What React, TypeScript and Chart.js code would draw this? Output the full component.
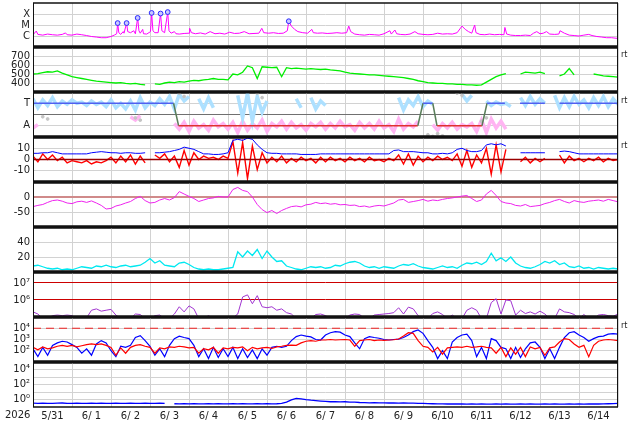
import { useEffect, useRef } from "react"
import { Chart, registerables } from "chart.js"

Chart.register(...registerables)

const FONT = "'DejaVu Sans', sans-serif"
Chart.defaults.font.family = FONT
Chart.defaults.font.size = 10
Chart.defaults.color = "#222"

// hours since 5/31 00:00, fifteen days on the time axis
const HOURS = 360
const dayLabels = ["5/31", "6/ 1", "6/ 2", "6/ 3", "6/ 4", "6/ 5", "6/ 6", "6/ 7", "6/ 8", "6/ 9", "6/10", "6/11", "6/12", "6/13", "6/14"]
const dayStarts = Array.from({ length: 16 }, (_, i) => i * 24)
const dayNoons = dayLabels.map((_, i) => i * 24 + 12)
const hours3 = Array.from({ length: 121 }, (_, i) => i * 3)

// X-ray flux [hour, W/m2]
const xrayFlux: [number, number][] = [
  [0, 1.3e-6], [2, 2.8e-6], [3, 1.4e-6], [6, 1.2e-6], [9, 1.5e-6], [12, 1.3e-6], [15, 1.2e-6], [18, 1.4e-6],
  [20, 1.9e-6], [21, 1.3e-6], [24, 1.2e-6], [27, 1.5e-6], [30, 1.3e-6], [33, 1.1e-6], [36, 9e-7], [39, 8e-7],
  [42, 7e-7], [45, 7e-7], [48, 9e-7], [50, 1.2e-6], [51.5, 1.6e-6], [52.1, 1.5e-5], [52.8, 2e-6], [54, 1.4e-6],
  [55.5, 2.5e-6], [56, 1.8e-6], [57.6, 1.5e-5], [58.3, 2.5e-6], [60, 2e-6], [62, 3e-6], [63, 1.6e-6], [64.4, 4.4e-5],
  [65.2, 3e-6], [66, 1.8e-6], [67.5, 4e-6], [68, 1.6e-6], [70, 1.5e-6], [72.3, 2.5e-6], [73, 1.25e-4], [73.8, 3e-6],
  [75, 2e-6], [77, 2e-6], [78.5, 1.1e-4], [79.3, 3e-6], [81, 2e-6], [82.9, 1.5e-4], [83.7, 3e-6], [85, 1.8e-6],
  [87, 2.5e-6], [88, 1.6e-6], [90, 1.5e-6], [93, 1.7e-6], [96, 1.8e-6], [96.4, 5e-6], [97.5, 2e-6], [100, 1.6e-6],
  [103, 1.9e-6], [106, 1.5e-6], [109, 2.5e-6], [112, 1.6e-6], [115, 1.8e-6], [118, 1.5e-6], [121, 2.2e-6], [124, 1.7e-6],
  [127, 1.8e-6], [130, 2.5e-6], [133, 1.6e-6], [136, 1.7e-6], [139, 1.8e-6], [140.8, 5e-6], [142, 2e-6], [145, 1.8e-6],
  [148, 2e-6], [151, 1.7e-6], [154, 1.8e-6], [156.5, 3e-6], [157.4, 2.2e-5], [159, 8e-6], [161, 4e-6], [163, 2.5e-6],
  [166, 2e-6], [169, 1.8e-6], [171.6, 4e-6], [172.5, 2e-6], [175, 1.8e-6], [178, 1.9e-6], [181, 1.7e-6], [184, 1.8e-6],
  [187, 2e-6], [190, 1.8e-6], [193, 2e-6], [194.3, 8e-6], [195.5, 2.5e-6], [198, 1.5e-6], [201, 1.3e-6], [204, 1.2e-6],
  [207, 1.4e-6], [210, 1.3e-6], [213, 1.2e-6], [216, 1.6e-6], [219.6, 3e-6], [220.5, 1.5e-6], [222.7, 3.5e-6], [223.8, 1.6e-6],
  [226, 1.4e-6], [229, 1.3e-6], [232, 1.5e-6], [235, 2.5e-6], [237, 1.6e-6], [240, 1.4e-6], [243, 1.3e-6], [246, 1.4e-6],
  [249, 1.8e-6], [252, 1.5e-6], [255, 1.6e-6], [258, 1.5e-6], [261, 2e-6], [264, 8e-6], [266, 4e-6], [268, 2.5e-6],
  [270, 1.8e-6], [271.8, 1e-5], [272.6, 2e-6], [275, 1.4e-6], [278, 1.3e-6], [281, 1.5e-6], [284, 1.3e-6], [287, 1.4e-6],
  [289.8, 1.3e-6], [290.4, 6e-6], [291.5, 1.5e-6], [294, 1.2e-6], [297, 1.1e-6], [300, 1.1e-6], [303, 1.2e-6], [306, 1.1e-6],
  [308, 1.8e-6], [310, 2.5e-6], [312, 1.6e-6], [314, 1.8e-6], [316, 2.5e-6], [318, 1.5e-6], [321, 1.4e-6], [323.6, 1.5e-6],
  [324.3, 3e-6], [327, 1.8e-6], [330, 1.2e-6], [333, 1.1e-6], [336, 1e-6], [339, 1.2e-6], [342, 1.4e-6], [344, 1.1e-6],
  [347, 9e-7], [350, 8e-7], [353, 7e-7], [356, 7e-7], [360, 6e-7],
]
const flarePeaks: [number, number][] = [
  [52.1, 1.5e-5], [57.6, 1.5e-5], [64.4, 4.4e-5], [73, 1.25e-4], [78.5, 1.1e-4], [82.9, 1.5e-4], [157.4, 2.2e-5],
]
const xrayTicks = [1e-6, 1e-5, 1e-4]
const xrayTickLabels = ["C", "M", "X"]

// solar wind speed, 3-hourly
const windSpeed = [
  500, 505, 515, 525, 520, 535, 510, 490, 470, 460, 450, 440, 430, 420, 415, 410,
  405, 400, 405, 395, 390, 395, 385, 380, null, 390, 385, 400, 410, 405, 415, 410,
  420, 430, 425, 435, 440, 450, 440, 440, 435, 500, 490, 520, 590, 570, 450, 580,
  575, 570, 575, 470, 570, 560, 565, 560, 555, 560, 555, 550, 555, 545, 540, 535,
  520, 510, 505, 500, 495, 490, 490, 485, 480, 475, 470, 465, 460, 450, 440, 425,
  415, 405, 400, 395, 395, 390, 390, 385, 385, 380, 380, 375, 380, 410, 440, 470,
  490, 505, null, null, 500, 520, 515, 510, 520, 505, null, null, 480, 500, 560, 490,
  null, 520, null, 500, 490, 480, 475, 470, 465,
]
const speedTicks = [700, 600, 500, 400]

// IMF sector: polarity line [hour, +1 toward / -1 away], plus scattered samples
const sectorPolarity: [number, number | null][] = [
  [0, 1], [86.5, 1], [89.6, -1], [236.8, -1], [240, 1], [246, 1], [248.6, -1], [276.3, -1],
  [279.4, 1], [290.4, 1], [295, null], [299.7, 1], [315, 1], [320, null], [324, 1], [360, 1],
]
const sectorToward = [
  1.4, 0.6, 1.3, 0.8, 1.5, 0.7, 1.2, 0.9, 1.3, 1.0, 1.1, 0.8, 1.2, 0.9, 1.1, 0.7,
  1.3, 0.6, 1.0, 0.5, 1.2, 0.4, 1.5, 0.6, 1.1, 0.8, 1.4, 0.9, 1.6, 0.5, 1.8, 1.2,
  1.6, null, 1.4, 0.5, 1.5, 0.6, null, null, null, null, 1.7, -0.3, 1.9, -0.6, 1.6, 0.2,
  1.2, null, null, null, null, null, 1.4, 0.6, null, 1.5, 0.5, 1.2, 0.8, null, null, null,
  null, null, null, null, null, null, null, null, null, null, null, 1.5, 0.4, 1.3, 0.8, 1.6,
  0.7, 1.2, 0.9, null, null, null, null, null, 1.8, 1.2, 1.7, null, null, 1.2, 0.8, 1.1,
  0.9, 1.0, 0.7, null, 1.5, 0.8, 1.6, 0.9, 1.4, 1.0, null, 1.7, 0.6, 1.5, 0.7, 1.6,
  0.9, 1.3, 0.6, 1.5, 0.8, 1.6, 0.7, 1.4, 0.9,
]
const sectorAway = [
  -1.2, -0.9, null, null, null, null, null, null, null, null, null, null, null, null, null, null,
  null, null, null, null, -0.2, -0.5, -0.1, null, null, null, null, null, null, -0.8, -1.3, -0.7,
  -1.5, -0.6, -1.2, -0.9, -1.4, -0.5, -1.1, -0.8, -1.3, -0.7, -1.6, -0.6, -1.4, -0.8, -1.2, -0.5,
  -1.5, -0.8, -1.1, -0.6, -1.3, -0.7, -1.2, -0.9, -1.4, -0.8, -1.1, -0.7, -1.3, -0.8, -1.2, -0.6,
  -1.1, -0.9, -1.4, -0.7, -1.2, -0.8, -1.3, -0.6, -1.2, -0.9, -1.5, -0.4, -1.3, -0.8, -1.1, -0.6,
  null, null, -0.9, -1.4, -0.8, -1.2, -0.7, -1.3, -0.9, -1.1, -0.8, -1.5, -0.5, -1.6, -0.4, -1.2,
  -0.6, -1.3, null, null, null, null, null, null, null, null, null, null, null, null, null, null,
  null, null, null, null, null, null, null, null, null,
]
const sectorMixed: [number, number][] = [
  [6, -0.2], [9, -0.4], [63, -0.3], [66, -0.5], [90, 1.9], [93, 1.6], [138, 1.9], [141, 1.5],
  [243, -1.8], [246, -1.95], [249, -1.7], [252, -1.9], [261, 1.9], [264, 1.7], [276, -0.6], [279, -0.3],
]
const sectorTicks = [1, 0, -1]
const sectorTickLabels = ["T", "", "A"]

// IMF magnitude and Bz, nT
const imfBt = [
  5.5, 5.5, 6, 6, 7, 6, 5, 5, 5, 5, 5, 5, 6, 6.5, 7, 6.5,
  6, 6, 5.5, 6, 6, 5.5, 5.5, 6, null, 6, 6, 6.5, 7, 8, 9, 11,
  10, 9, 7, 5, 5, 4.5, 4.5, 5, 6, 17, 18, 17, 19, 18, 13, 9,
  6, 5.5, 5.5, 5, 5, 5, 5, 4.5, 4.5, 4.5, 4.5, 5, 5, 5, 5, 5,
  5, 5, 5, 5, 5, 5, 5, 5, 5, 5, 8, 8.5, 7, 7, 7, 6.5,
  6, 6, 5, 5, 5.5, 5, 6, 9, 10, 8, 7, 7, 8, 13, 14, 13,
  14, 12, null, null, 6, 6, 6, 6, 6, 6, null, null, 7, 7.5, 7, 6,
  5, 5, 5, 5, 5, 5, 5, 5, 5,
]
const imfBz = [
  3, -2, 5, 0, 4, -1, 2, -3, -1, -2, -3, -1, -4, -2, -3, -1,
  2, -3, 3, -2, 4, -4, 3, -3, null, 4, 1, 5, -2, 3, -7, 8,
  -5, 6, 0, 3, 1, 2, 0, 3, 1, 16, -12, 15, -17, 12, -9, 6,
  -3, 2, -2, 3, -3, 1, -2, 2, -1, 1, -3, 2, -2, 2, -1, 1,
  -2, 2, -1, 1, -2, 2, -1, 0, -2, 1, -1, 4, -4, 5, -5, 3,
  -2, 2, -1, 3, 0, 2, -1, 5, -6, 8, -7, 4, -3, 10, -13, 13,
  -11, 9, null, null, -2, 2, -3, 1, -2, 1, null, null, 4, -3, 3, -1,
  1, -2, 1, -1, 2, -2, 1, -1, 0,
]
const imfTicks = [10, 0, -10]

// geomagnetic index, nT
const dstIndex = [
  -32, -28, -25, -18, -12, -10, -14, -20, -22, -16, -14, -18, -13, -20, -28, -40,
  -38, -30, -26, -20, -15, -5, 2, -12, -20, -18, -10, -5, -10, -2, 18, 10,
  2, -5, -15, -10, -5, -3, 2, 0, 0, 25, 32, 22, 18, 0, -25, -42,
  -52, -45, -55, -45, -38, -32, -30, -33, -26, -24, -18, -22, -20, -24, -22, -26,
  -25, -28, -27, -32, -30, -34, -30, -28, -30, -25, -20, -10, -8, -18, -15, -12,
  -8, -14, -10, -12, -8, -5, -3, 0, 3, 5, -5, -15, -10, 10, 22, 5,
  -15, -20, -22, -28, -30, -25, -32, -30, -28, -22, -18, -12, -8, -15, -20, -12,
  -16, -18, -14, -12, -10, -14, -8, -12, -16,
]
const dstTicks = [0, -50]

// local activity index
const activityIndex = [
  8, 9, 7, 5, 4, 5, 3, 4, 3, 5, 7, 6, 5, 8, 7, 9,
  7, 6, 8, 9, 7, 8, 9, 13, 18, 12, 15, 9, 8, 7, 12, 13,
  10, 6, 4, 3, 4, 3, 3, 4, 5, 6, 27, 20, 28, 22, 30, 18,
  28, 20, 14, 15, 8, 6, 4, 3, 5, 7, 6, 7, 5, 6, 9, 8,
  11, 13, 14, 12, 8, 6, 7, 5, 7, 6, 5, 8, 10, 9, 11, 8,
  6, 5, 4, 6, 8, 6, 7, 5, 9, 12, 11, 13, 10, 14, 25, 15,
  19, 14, 20, 12, 8, 6, 5, 7, 10, 14, 12, 15, 10, 12, 7, 6,
  8, 5, 6, 4, 6, 5, 4, 5, 4,
]
const activityTicks = [40, 20]

// electron fluence
const electronFluence = [
  2e5, 1.5e5, 8e4, 8e4, 1.2e5, 1.3e5, 1.2e5, 1.3e5, 1.2e5, 8e4, 8e4, 9e4, 2.5e5, 3e5, 2.2e5, 2.5e5,
  2.8e5, 1.3e5, 8e4, 8e4, 8e4, 1.5e5, 1.4e5, 8e4, 8e4, 1.2e5, 1.3e5, 8e4, 8e4, 1.5e5, 4e5, 2e5,
  4.5e5, 3e5, 8e4, 8e4, 1.2e5, 8e4, 8e4, 8e4, 8e4, 9e4, 1.5e5, 1.5e6, 2e6, 6e5, 1.8e6, 4e5,
  3.5e5, 4e5, 2.5e5, 3e5, 1.8e5, 1.5e5, 8e4, 8e4, 8e4, 8e4, 1.4e5, 1.5e5, 1.2e5, 8e4, 8e4, 8e4,
  8e4, 1.3e5, 1.5e5, 1.4e5, 8e4, 8e4, 1.3e5, 1.4e5, 1.5e5, 1.6e5, 1.8e5, 3.5e5, 1.5e5, 3.8e5, 3e5, 1.2e5,
  8e4, 8e4, 1.6e5, 2e5, 1.4e5, 8e4, 1.3e5, 8e4, 8e4, 2.5e5, 3.5e5, 2.5e5, 8e4, 8e4, 7e5, 1.2e6,
  1.5e5, 1e6, 9e5, 1.3e5, 2.5e5, 1.6e5, 2e5, 1.5e5, 2.2e5, 1.5e5, 8e4, 8e4, 3e5, 2e5, 1.8e5, 1.4e5,
  8e4, 1.4e5, 8e4, 8e4, 1.3e5, 1.4e5, 1.2e5, 1.1e5, 1.5e5,
]
const fluenceTicks = [1e7, 1e6]
const fluenceTickLabels = ["10⁷", "10⁶"]

// electron flux, two channels
const electronFluxBlue = [
  150, 30, 200, 40, 300, 500, 700, 600, 350, 200, 60, 150, 40, 400, 800, 500,
  100, 30, 250, 200, 300, 1500, 2200, 800, 250, 40, 150, 30, 300, 1200, 2000, 1500,
  1200, 300, 30, 150, 20, 200, 25, 150, 30, 200, 20, 150, 25, 120, 20, 150,
  40, 200, 250, 200, 250, 800, 1800, 2500, 2000, 1700, 1000, 900, 2500, 4000, 5000, 4500,
  2500, 1800, 500, 150, 1200, 1800, 1500, 1300, 1000, 900, 1000, 1100, 1500, 2500, 5000, 7000,
  3500, 800, 200, 20, 100, 20, 600, 1500, 2500, 3000, 800, 30, 200, 20, 1200, 800,
  200, 150, 20, 200, 25, 150, 500, 600, 200, 20, 150, 20, 200, 1500, 4000, 5000,
  2500, 1500, 700, 1200, 1800, 2000, 3000, 3300, 3000,
]
const electronFluxRed = [
  200, 120, 220, 150, 180, 250, 300, 250, 300, 220, 280, 350, 400, 350, 400, 300,
  200, 40, 180, 60, 200, 300, 350, 250, 200, 60, 180, 150, 220, 200, 250, 220,
  180, 200, 60, 150, 120, 200, 60, 180, 150, 200, 180, 220, 100, 200, 150, 180,
  200, 160, 220, 250, 300, 320, 300, 500, 700, 800, 700, 900, 900, 1000, 900, 950,
  1000, 900, 250, 800, 900, 1000, 800, 900, 850, 900, 950, 1100, 2000, 4000, 3500, 800,
  250, 200, 80, 200, 50, 180, 200, 220, 200, 250, 200, 220, 250, 200, 180, 60,
  200, 30, 180, 50, 200, 30, 220, 150, 200, 40, 180, 220, 600, 1200, 1000, 400,
  200, 300, 30, 300, 700, 900, 1000, 900, 800,
]
const electronAlert = 1e4
const electronTicks = [1e4, 1e3, 1e2]
const electronTickLabels = ["10⁴", "10³", "10²"]

// proton flux
const protonFlux = [
  0.32, 0.3, 0.33, 0.31, 0.3, 0.32, 0.34, 0.31, 0.3, 0.32, 0.3, 0.31, 0.33, 0.3, 0.32, 0.31,
  0.3, 0.32, 0.31, 0.3, 0.33, 0.31, 0.3, 0.32, 0.31, 0.3, 0.32, 0.3, null, 0.27, 0.26, 0.27,
  0.26, 0.27, 0.26, 0.26, 0.27, 0.26, 0.27, 0.26, 0.26, 0.27, 0.26, 0.27, 0.26, 0.26, 0.27, 0.26,
  0.27, 0.26, 0.27, 0.3, 0.45, 0.9, 1.4, 1.2, 0.95, 0.8, 0.7, 0.62, 0.55, 0.5, 0.52, 0.48,
  0.5, 0.46, 0.45, 0.4, 0.38, 0.36, 0.37, 0.35, 0.36, 0.34, 0.35, 0.33, 0.34, 0.33, 0.32, 0.3,
  0.3, 0.28, 0.27, 0.26, 0.26, 0.25, 0.26, 0.25, 0.25, 0.24, 0.25, 0.24, 0.25, 0.24, 0.24, 0.25,
  0.24, 0.25, 0.24, 0.24, 0.25, 0.24, 0.25, 0.24, 0.24, 0.25, 0.24, 0.25, 0.24, 0.24, 0.25, 0.24,
  0.25, 0.24, 0.25, 0.26, 0.25, 0.26, 0.27, 0.28, 0.3,
]
const protonTicks = [1e4, 1e3, 1e2, 1e1, 1e0]
const protonTickLabels = ["10⁴", "", "10²", "", "10⁰"]

const PAD = 12
const GRID = "#d2d2d2"
const panelTops = [3, 47, 92, 137, 182, 227, 272, 317, 362, 407]
const rtMarks = [56, 102, 147, 327]

const on3h = (values: (number | null)[]) => values.map((y, i) => ({ x: hours3[i], y }))
const onHours = (pairs: [number, number | null][]) => pairs.map(([x, y]) => ({ x, y }))
const across = (y: number) => [{ x: 0, y }, { x: HOURS, y }]

function line(data: any[], color: string, width = 1, extra: Record<string, unknown> = {}) {
  return { data, borderColor: color, borderWidth: width, pointRadius: 0, fill: false, tension: 0, spanGaps: false, ...extra }
}

function dots(data: any[], color: string, radius: number, border: string) {
  return {
    data, showLine: false, pointRadius: radius, pointStyle: "circle",
    pointBackgroundColor: color, pointBorderColor: border, pointBorderWidth: 1,
  }
}

type AxisSpec = {
  type: "linear" | "logarithmic"
  min: number
  max: number
  ticks: number[]
  labels: string[]
  gridColor?: (v: number) => string
  gridWidth?: (v: number) => number
}

function yAxis(a: AxisSpec) {
  return {
    type: a.type,
    min: a.min,
    max: a.max,
    afterFit: (s: any) => { s.width = 33 },
    afterBuildTicks: (s: any) => { s.ticks = a.ticks.map((value) => ({ value })) },
    ticks: { autoSkip: false, padding: 3, color: "#222", callback: (_v: unknown, i: number) => a.labels[i] },
    grid: {
      drawTicks: false,
      color: (ctx: any) => (a.gridColor ? a.gridColor(ctx.tick?.value) : GRID),
      lineWidth: (ctx: any) => (a.gridWidth ? a.gridWidth(ctx.tick?.value) : 1),
    },
    border: { display: false },
  }
}

type Panel = { index: number; y: ReturnType<typeof yAxis>; datasets: any[] }

const panels: Panel[] = [
  {
    index: 0,
    y: yAxis({ type: "logarithmic", min: 1e-7, max: 1e-3, ticks: xrayTicks, labels: xrayTickLabels }),
    datasets: [
      dots(onHours(flarePeaks), "#c8c8ff", 2.4, "#2a2aff"),
      line(onHours(xrayFlux), "#ff00ff"),
    ],
  },
  {
    index: 1,
    y: yAxis({ type: "linear", min: 300, max: 800, ticks: speedTicks, labels: speedTicks.map(String) }),
    datasets: [line(on3h(windSpeed), "#00ee00", 1.3)],
  },
  {
    index: 2,
    y: yAxis({
      type: "linear", min: -2, max: 2, ticks: sectorTicks, labels: sectorTickLabels,
      gridColor: (v) => (v === 0 ? "#707070" : GRID),
    }),
    datasets: [
      line(onHours(sectorPolarity), "#5060f0", 1.5, {
        segment: {
          borderColor: (ctx: any) => {
            const a = ctx.p0.parsed.y
            const b = ctx.p1.parsed.y
            if (a !== b) return "#5a7d5a"
            return a > 0 ? "#5060f0" : "#e03030"
          },
        },
      }),
      dots(onHours(sectorMixed), "#c4c4c4", 1.4, "#c4c4c4"),
      line(on3h(sectorToward), "#ade0ff", 3.5),
      line(on3h(sectorAway), "#ffb4f2", 3.5),
    ],
  },
  {
    index: 3,
    y: yAxis({
      type: "linear", min: -20, max: 20, ticks: imfTicks, labels: imfTicks.map(String),
      gridColor: (v) => (v === 0 ? "rgba(0,0,0,0)" : GRID),
    }),
    datasets: [
      line(across(0), "#990000", 1.3),
      line(on3h(imfBt), "#0000ff"),
      line(on3h(imfBz), "#ff0000", 1.4),
    ],
  },
  {
    index: 4,
    y: yAxis({
      type: "linear", min: -100, max: 50, ticks: dstTicks, labels: dstTicks.map(String),
      gridColor: (v) => (v === 0 ? "#d08a8a" : GRID),
      gridWidth: (v) => (v === 0 ? 2 : 1),
    }),
    datasets: [line(on3h(dstIndex), "#ee22ee")],
  },
  {
    index: 5,
    y: yAxis({ type: "linear", min: 0, max: 60, ticks: activityTicks, labels: activityTicks.map(String) }),
    datasets: [line(on3h(activityIndex), "#00e8f0", 1.3)],
  },
  {
    index: 6,
    y: yAxis({
      type: "logarithmic", min: 1e5, max: 4.4e7, ticks: fluenceTicks, labels: fluenceTickLabels,
      gridColor: () => "#cc0000",
    }),
    datasets: [line(on3h(electronFluence), "#a035d0")],
  },
  {
    index: 7,
    y: yAxis({ type: "logarithmic", min: 1e1, max: 1e5, ticks: electronTicks, labels: electronTickLabels }),
    datasets: [
      line(across(electronAlert), "#ee2222", 1.2, { borderDash: [8, 5] }),
      line(on3h(electronFluxRed), "#ff0000", 1.2),
      line(on3h(electronFluxBlue), "#0000ff", 1.2),
    ],
  },
  {
    index: 8,
    y: yAxis({ type: "logarithmic", min: 1e-1, max: 1e5, ticks: protonTicks, labels: protonTickLabels }),
    datasets: [line(on3h(protonFlux), "#0000ff", 1.3)],
  },
]

const framePlugin = {
  id: "panelFrame",
  afterDraw(chart: Chart, _args: unknown, opts: { first?: boolean; last?: boolean }) {
    const { ctx, chartArea: a } = chart
    ctx.save()
    ctx.strokeStyle = "#111"
    ctx.lineWidth = 1
    ctx.beginPath()
    ctx.moveTo(a.left + 0.5, a.top)
    ctx.lineTo(a.left + 0.5, a.bottom)
    ctx.moveTo(a.right - 0.5, a.top)
    ctx.lineTo(a.right - 0.5, a.bottom)
    ctx.stroke()
    ctx.lineWidth = opts.first ? 1.5 : 3
    ctx.beginPath()
    ctx.moveTo(a.left, a.top)
    ctx.lineTo(a.right, a.top)
    ctx.stroke()
    ctx.lineWidth = opts.last ? 1.5 : 3
    ctx.beginPath()
    ctx.moveTo(a.left, a.bottom)
    ctx.lineTo(a.right, a.bottom)
    ctx.stroke()
    ctx.restore()
  },
}

function buildConfig(p: Panel): any {
  const last = p.index === panels.length - 1
  const scales: Record<string, unknown> = {
    x: {
      type: "linear",
      min: 0,
      max: HOURS,
      afterFit: (s: any) => { s.height = 0 },
      afterBuildTicks: (s: any) => { s.ticks = dayStarts.map((value) => ({ value })) },
      ticks: { display: false },
      grid: { color: GRID, drawTicks: false },
      border: { display: false },
    },
    y: p.y,
  }
  if (last) {
    scales.xDate = {
      type: "linear",
      position: "bottom",
      min: 0,
      max: HOURS,
      afterFit: (s: any) => { s.height = 424 - panelTops[9] },
      afterBuildTicks: (s: any) => { s.ticks = dayNoons.map((value) => ({ value })) },
      ticks: { autoSkip: false, maxRotation: 0, padding: 3, color: "#222", callback: (_v: unknown, i: number) => dayLabels[i] },
      grid: { display: false, drawTicks: false },
      border: { display: false },
    }
  }
  return {
    type: "line",
    data: { datasets: p.datasets },
    options: {
      responsive: false,
      animation: false,
      events: [],
      layout: { padding: { top: PAD, bottom: last ? 0 : PAD, left: 0, right: 16 } },
      scales,
      plugins: {
        legend: { display: false },
        tooltip: { enabled: false },
        panelFrame: { first: p.index === 0, last },
      },
    },
    plugins: [framePlugin],
  }
}

function PanelChart({ panel }: { panel: Panel }) {
  const ref = useRef<HTMLCanvasElement>(null)
  const top = panelTops[panel.index]
  const bottom = panelTops[panel.index + 1]
  const last = panel.index === panels.length - 1
  const height = bottom - top + PAD + (last ? 424 - bottom : PAD)

  useEffect(() => {
    if (!ref.current) return
    const chart = new Chart(ref.current, buildConfig(panel))
    return () => chart.destroy()
  }, [panel])

  return (
    <div style={{ position: "absolute", left: 0, top: top - PAD, width: 634, height }}>
      <canvas ref={ref} width={634} height={height} style={{ display: "block", width: 634, height }} />
    </div>
  )
}

export default function App() {
  return (
    <div
      style={{
        position: "absolute", left: 0, top: 0, width: 634, height: 424,
        background: "#fff", overflow: "hidden", fontFamily: FONT, color: "#222",
      }}
    >
      {panels.map((p) => (
        <PanelChart key={p.index} panel={p} />
      ))}
      <span style={{ position: "absolute", left: 5, top: 409, fontSize: 10 }}>2026</span>
      {rtMarks.map((y) => (
        <span key={y} style={{ position: "absolute", left: 621, top: y - 6, fontSize: 8 }}>rt</span>
      ))}
    </div>
  )
}
